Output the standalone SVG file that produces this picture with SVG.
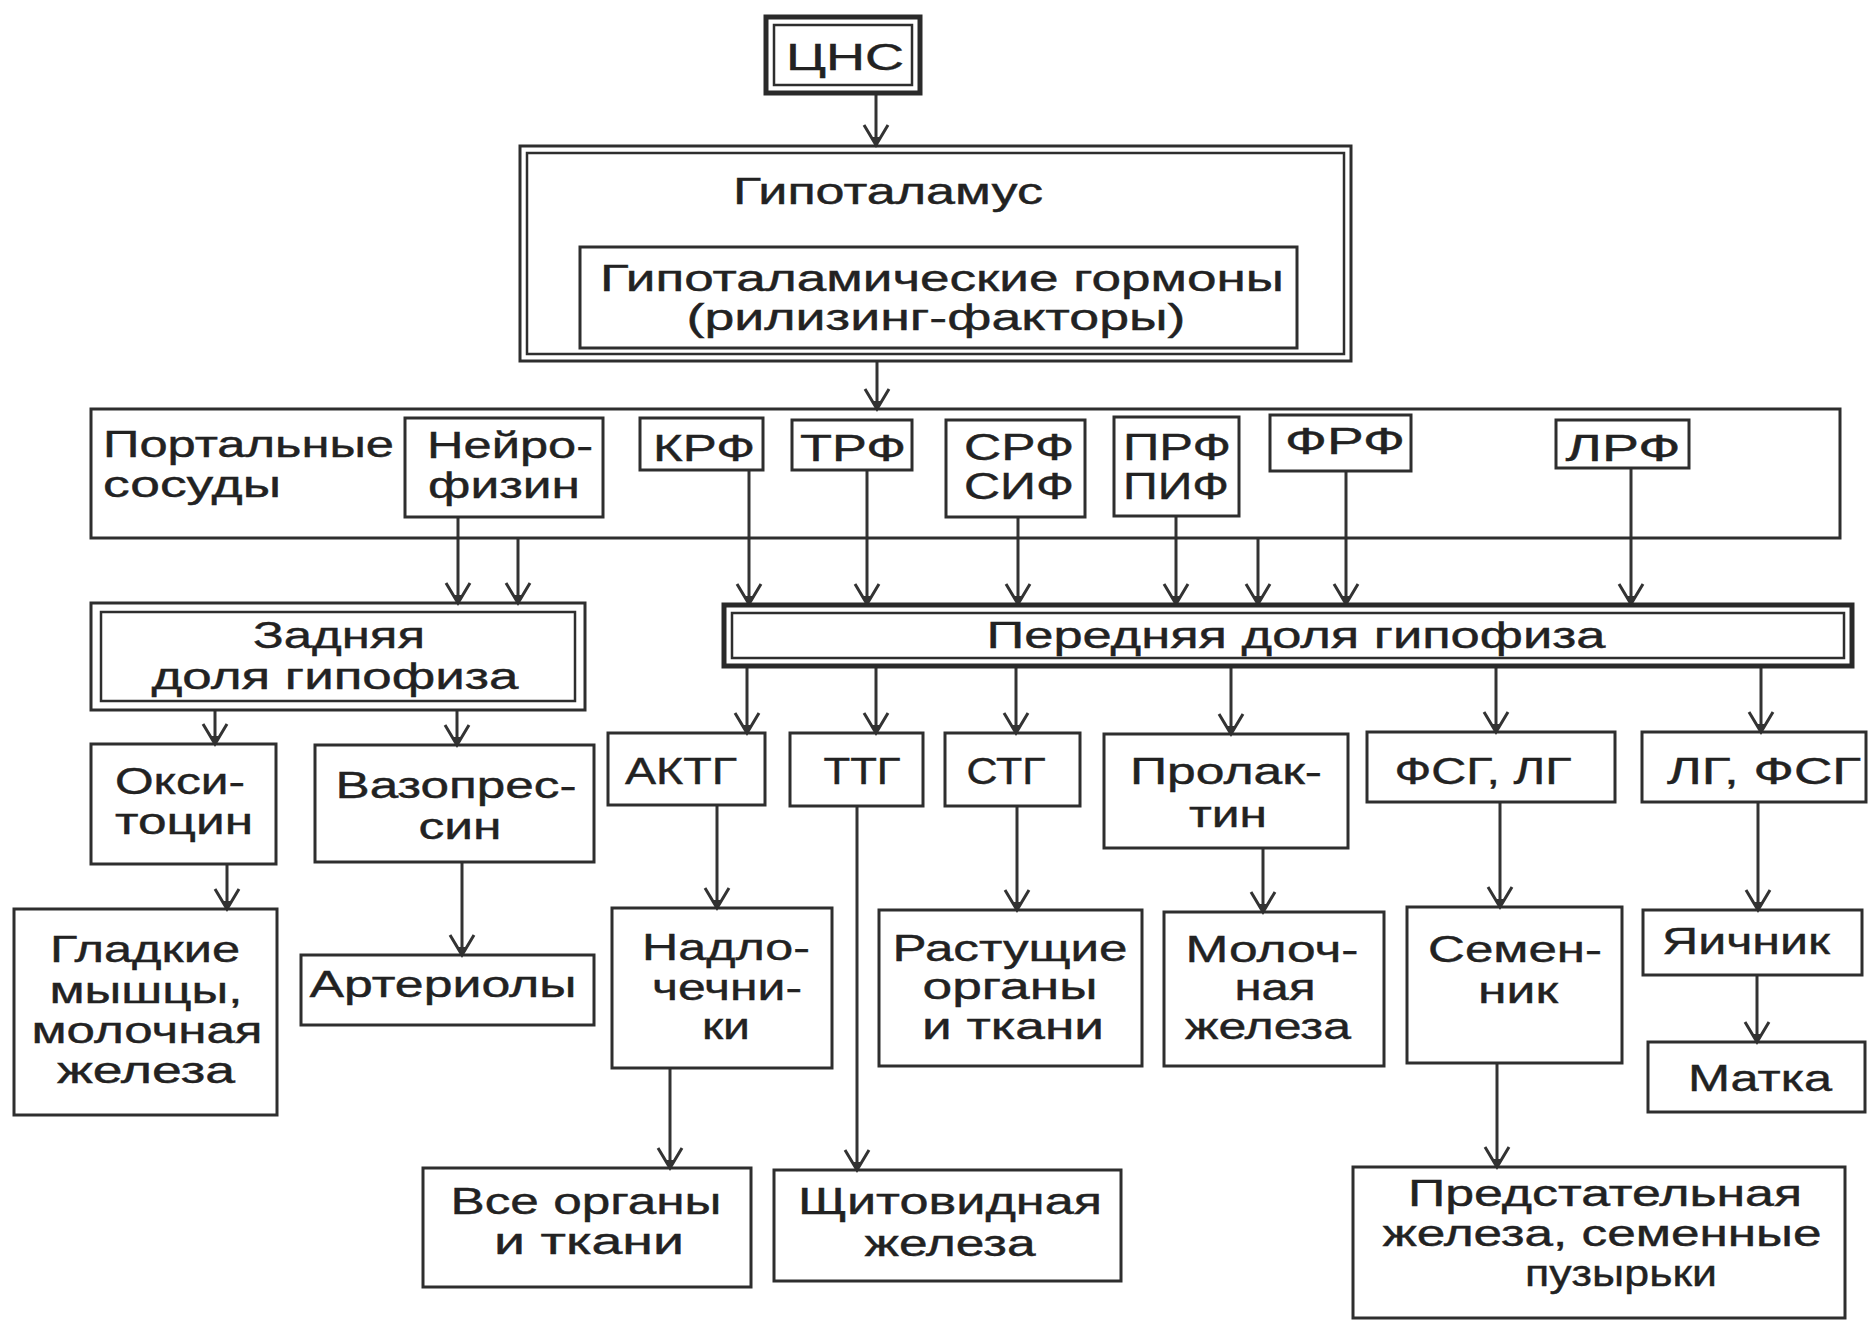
<svg xmlns="http://www.w3.org/2000/svg" width="1871" height="1321" viewBox="0 0 1871 1321">
<defs>
<style>
.b{fill:none;stroke:#2e2e2e;stroke-width:3}
.bo{fill:none;stroke:#2a2a2a;stroke-width:5}
.bi{fill:none;stroke:#2e2e2e;stroke-width:2.5}
.t{font-family:"Liberation Sans",Arial,sans-serif;font-size:36px;fill:#222;stroke:#222;stroke-width:0.4;text-anchor:middle}
.s{text-anchor:start}
.c{fill:none;stroke:#333;stroke-width:3}
</style>
<marker id="ar" markerUnits="userSpaceOnUse" viewBox="-22 -16 26 32" markerWidth="26" markerHeight="32" refX="0" refY="0" orient="auto" overflow="visible">
<path d="M-20,-12 L0,0 L-20,12" fill="none" stroke="#333" stroke-width="3"/>
<path d="M-8,-4.5 L0,0 L-8,4.5 Z" fill="#333"/>
</marker>
</defs>
<rect width="1871" height="1321" fill="#fff"/>
<g id="connectors">
<line class="c" x1="876" y1="95" x2="876" y2="145" marker-end="url(#ar)"/>
<line class="c" x1="877" y1="361" x2="877" y2="409" marker-end="url(#ar)"/>
<line class="c" x1="458" y1="517" x2="458" y2="603" marker-end="url(#ar)"/>
<line class="c" x1="518" y1="538" x2="518" y2="603" marker-end="url(#ar)"/>
<line class="c" x1="749" y1="470" x2="749" y2="604" marker-end="url(#ar)"/>
<line class="c" x1="867" y1="470" x2="867" y2="604" marker-end="url(#ar)"/>
<line class="c" x1="1018" y1="517" x2="1018" y2="604" marker-end="url(#ar)"/>
<line class="c" x1="1176" y1="516" x2="1176" y2="604" marker-end="url(#ar)"/>
<line class="c" x1="1258" y1="538" x2="1258" y2="604" marker-end="url(#ar)"/>
<line class="c" x1="1346" y1="471" x2="1346" y2="604" marker-end="url(#ar)"/>
<line class="c" x1="1631" y1="468" x2="1631" y2="604" marker-end="url(#ar)"/>
<line class="c" x1="747" y1="667" x2="747" y2="733" marker-end="url(#ar)"/>
<line class="c" x1="876" y1="667" x2="876" y2="733" marker-end="url(#ar)"/>
<line class="c" x1="1016" y1="667" x2="1016" y2="733" marker-end="url(#ar)"/>
<line class="c" x1="1231" y1="667" x2="1231" y2="734" marker-end="url(#ar)"/>
<line class="c" x1="1496" y1="667" x2="1496" y2="732" marker-end="url(#ar)"/>
<line class="c" x1="1761" y1="667" x2="1761" y2="732" marker-end="url(#ar)"/>
<line class="c" x1="215" y1="710" x2="215" y2="744" marker-end="url(#ar)"/>
<line class="c" x1="457" y1="710" x2="457" y2="745" marker-end="url(#ar)"/>
<line class="c" x1="227" y1="864" x2="227" y2="909" marker-end="url(#ar)"/>
<line class="c" x1="462" y1="862" x2="462" y2="955" marker-end="url(#ar)"/>
<line class="c" x1="717" y1="805" x2="717" y2="908" marker-end="url(#ar)"/>
<line class="c" x1="670" y1="1068" x2="670" y2="1168" marker-end="url(#ar)"/>
<line class="c" x1="857" y1="806" x2="857" y2="1170" marker-end="url(#ar)"/>
<line class="c" x1="1017" y1="806" x2="1017" y2="910" marker-end="url(#ar)"/>
<line class="c" x1="1263" y1="848" x2="1263" y2="912" marker-end="url(#ar)"/>
<line class="c" x1="1500" y1="802" x2="1500" y2="907" marker-end="url(#ar)"/>
<line class="c" x1="1497" y1="1063" x2="1497" y2="1167" marker-end="url(#ar)"/>
<line class="c" x1="1758" y1="802" x2="1758" y2="910" marker-end="url(#ar)"/>
<line class="c" x1="1757" y1="975" x2="1757" y2="1042" marker-end="url(#ar)"/>
</g>
<g id="cns">
<rect class="bo" x="766" y="17" width="154" height="76"/>
<rect class="bi" x="774" y="25" width="138" height="60"/>
<text class="t" x="845" y="70" textLength="118" lengthAdjust="spacingAndGlyphs">ЦНС</text>
</g>
<g id="hypothalamus">
<rect class="b" x="520" y="146" width="831" height="215"/>
<rect class="bi" x="527" y="153" width="817" height="201"/>
<text class="t" x="888" y="204" textLength="310" lengthAdjust="spacingAndGlyphs">Гипоталамус</text>
</g>
<g id="hormones">
<rect class="b" x="580" y="247" width="717" height="101"/>
<text class="t" x="942" y="291" textLength="684" lengthAdjust="spacingAndGlyphs">Гипоталамические  гормоны</text>
<text class="t" x="936" y="330" textLength="499" lengthAdjust="spacingAndGlyphs">(рилизинг-факторы)</text>
</g>
<g id="portal">
<rect class="b" x="91" y="409" width="1749" height="129"/>
<text class="t s" x="103" y="457" textLength="291" lengthAdjust="spacingAndGlyphs">Портальные</text>
<text class="t s" x="103" y="497" textLength="178" lengthAdjust="spacingAndGlyphs">сосуды</text>
</g>
<g id="neurophysin">
<rect class="b" x="405" y="418" width="198" height="99"/>
<text class="t" x="510" y="458" textLength="166" lengthAdjust="spacingAndGlyphs">Нейро-</text>
<text class="t" x="504" y="498" textLength="152" lengthAdjust="spacingAndGlyphs">физин</text>
</g>
<g id="krf">
<rect class="b" x="640" y="418" width="123" height="52"/>
<text class="t" x="704" y="461" textLength="102" lengthAdjust="spacingAndGlyphs">КРФ</text>
</g>
<g id="trf">
<rect class="b" x="792" y="420" width="120" height="50"/>
<text class="t" x="853" y="461" textLength="106" lengthAdjust="spacingAndGlyphs">ТРФ</text>
</g>
<g id="srf">
<rect class="b" x="946" y="420" width="139" height="97"/>
<text class="t" x="1019" y="460" textLength="110" lengthAdjust="spacingAndGlyphs">СРФ</text>
<text class="t" x="1019" y="499" textLength="110" lengthAdjust="spacingAndGlyphs">СИФ</text>
</g>
<g id="prf">
<rect class="b" x="1114" y="417" width="125" height="99"/>
<text class="t" x="1177" y="460" textLength="108" lengthAdjust="spacingAndGlyphs">ПРФ</text>
<text class="t s" x="1123" y="499" textLength="106" lengthAdjust="spacingAndGlyphs">ПИФ</text>
</g>
<g id="frf">
<rect class="b" x="1270" y="415" width="141" height="56"/>
<text class="t" x="1345" y="454" textLength="120" lengthAdjust="spacingAndGlyphs">ФРФ</text>
</g>
<g id="lrf">
<rect class="b" x="1556" y="420" width="133" height="48"/>
<text class="t" x="1623" y="461" textLength="115" lengthAdjust="spacingAndGlyphs">ЛРФ</text>
</g>
<g id="posterior">
<rect class="b" x="91" y="603" width="494" height="107"/>
<rect class="bi" x="101" y="612" width="474" height="89"/>
<text class="t" x="339" y="648" textLength="172" lengthAdjust="spacingAndGlyphs">Задняя</text>
<text class="t" x="335" y="689" textLength="367" lengthAdjust="spacingAndGlyphs">доля  гипофиза</text>
</g>
<g id="anterior">
<rect class="bo" x="724" y="605" width="1128" height="61"/>
<rect class="bi" x="732" y="613" width="1112" height="45"/>
<text class="t" x="1296" y="648" textLength="619" lengthAdjust="spacingAndGlyphs">Передняя доля гипофиза</text>
</g>
<g id="oxytocin">
<rect class="b" x="91" y="744" width="185" height="120"/>
<text class="t" x="180" y="794" textLength="130" lengthAdjust="spacingAndGlyphs">Окси-</text>
<text class="t" x="184" y="834" textLength="138" lengthAdjust="spacingAndGlyphs">тоцин</text>
</g>
<g id="vasopressin">
<rect class="b" x="315" y="745" width="279" height="117"/>
<text class="t" x="456" y="798" textLength="241" lengthAdjust="spacingAndGlyphs">Вазопрес-</text>
<text class="t" x="460" y="839" textLength="83" lengthAdjust="spacingAndGlyphs">син</text>
</g>
<g id="actg">
<rect class="b" x="608" y="733" width="157" height="72"/>
<text class="t" x="681" y="784" textLength="112" lengthAdjust="spacingAndGlyphs">АКТГ</text>
</g>
<g id="ttg">
<rect class="b" x="790" y="733" width="133" height="73"/>
<text class="t" x="862" y="784" textLength="77" lengthAdjust="spacingAndGlyphs">ТТГ</text>
</g>
<g id="stg">
<rect class="b" x="945" y="733" width="135" height="73"/>
<text class="t" x="1006" y="784" textLength="79" lengthAdjust="spacingAndGlyphs">СТГ</text>
</g>
<g id="prolactin">
<rect class="b" x="1104" y="734" width="244" height="114"/>
<text class="t" x="1226" y="784" textLength="192" lengthAdjust="spacingAndGlyphs">Пролак-</text>
<text class="t" x="1228" y="827" textLength="78" lengthAdjust="spacingAndGlyphs">тин</text>
</g>
<g id="fsg-lg">
<rect class="b" x="1367" y="732" width="248" height="70"/>
<text class="t" x="1483" y="784" textLength="177" lengthAdjust="spacingAndGlyphs">ФСГ, ЛГ</text>
</g>
<g id="lg-fsg">
<rect class="b" x="1642" y="732" width="224" height="70"/>
<text class="t" x="1764" y="784" textLength="194" lengthAdjust="spacingAndGlyphs">ЛГ, ФСГ</text>
</g>
<g id="smooth-muscle">
<rect class="b" x="14" y="909" width="263" height="206"/>
<text class="t" x="145" y="962" textLength="190" lengthAdjust="spacingAndGlyphs">Гладкие</text>
<text class="t" x="146" y="1003" textLength="193" lengthAdjust="spacingAndGlyphs">мышцы,</text>
<text class="t" x="147" y="1043" textLength="231" lengthAdjust="spacingAndGlyphs">молочная</text>
<text class="t" x="146" y="1083" textLength="178" lengthAdjust="spacingAndGlyphs">железа</text>
</g>
<g id="arterioles">
<rect class="b" x="301" y="955" width="293" height="70"/>
<text class="t" x="443" y="997" textLength="267" lengthAdjust="spacingAndGlyphs">Артериолы</text>
</g>
<g id="adrenals">
<rect class="b" x="612" y="908" width="220" height="160"/>
<text class="t" x="726" y="960" textLength="168" lengthAdjust="spacingAndGlyphs">Надло-</text>
<text class="t" x="727" y="1000" textLength="150" lengthAdjust="spacingAndGlyphs">чечни-</text>
<text class="t" x="726" y="1039" textLength="48" lengthAdjust="spacingAndGlyphs">ки</text>
</g>
<g id="growing">
<rect class="b" x="879" y="910" width="263" height="156"/>
<text class="t" x="1010" y="961" textLength="235" lengthAdjust="spacingAndGlyphs">Растущие</text>
<text class="t" x="1010" y="999" textLength="175" lengthAdjust="spacingAndGlyphs">органы</text>
<text class="t" x="1013" y="1039" textLength="182" lengthAdjust="spacingAndGlyphs">и  ткани</text>
</g>
<g id="mammary">
<rect class="b" x="1164" y="912" width="220" height="154"/>
<text class="t" x="1272" y="962" textLength="173" lengthAdjust="spacingAndGlyphs">Молоч-</text>
<text class="t" x="1275" y="1000" textLength="81" lengthAdjust="spacingAndGlyphs">ная</text>
<text class="t" x="1268" y="1039" textLength="166" lengthAdjust="spacingAndGlyphs">железа</text>
</g>
<g id="testis">
<rect class="b" x="1407" y="907" width="215" height="156"/>
<text class="t" x="1515" y="962" textLength="174" lengthAdjust="spacingAndGlyphs">Семен-</text>
<text class="t" x="1518" y="1003" textLength="80" lengthAdjust="spacingAndGlyphs">ник</text>
</g>
<g id="ovary">
<rect class="b" x="1643" y="910" width="219" height="65"/>
<text class="t" x="1746" y="954" textLength="168" lengthAdjust="spacingAndGlyphs">Яичник</text>
</g>
<g id="uterus">
<rect class="b" x="1648" y="1042" width="217" height="70"/>
<text class="t" x="1760" y="1091" textLength="144" lengthAdjust="spacingAndGlyphs">Матка</text>
</g>
<g id="all-organs">
<rect class="b" x="423" y="1168" width="328" height="119"/>
<text class="t" x="586" y="1214" textLength="271" lengthAdjust="spacingAndGlyphs">Все органы</text>
<text class="t" x="589" y="1254" textLength="190" lengthAdjust="spacingAndGlyphs">и  ткани</text>
</g>
<g id="thyroid">
<rect class="b" x="774" y="1170" width="347" height="111"/>
<text class="t" x="950" y="1214" textLength="304" lengthAdjust="spacingAndGlyphs">Щитовидная</text>
<text class="t" x="950" y="1256" textLength="171" lengthAdjust="spacingAndGlyphs">железа</text>
</g>
<g id="prostate">
<rect class="b" x="1353" y="1167" width="492" height="151"/>
<text class="t" x="1605" y="1206" textLength="394" lengthAdjust="spacingAndGlyphs">Предстательная</text>
<text class="t" x="1602" y="1246" textLength="439" lengthAdjust="spacingAndGlyphs">железа, семенные</text>
<text class="t" x="1621" y="1286" textLength="192" lengthAdjust="spacingAndGlyphs">пузырьки</text>
</g>
</svg>
